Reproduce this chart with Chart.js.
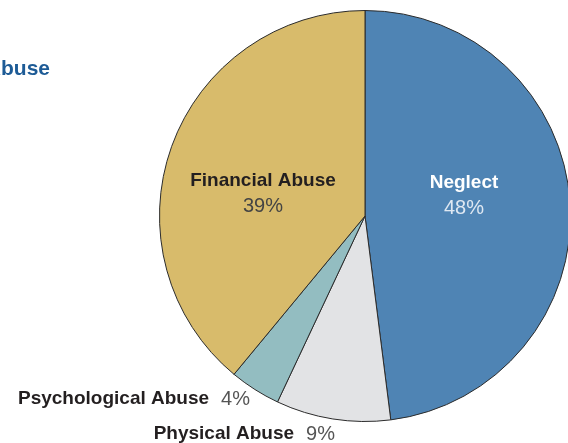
<!DOCTYPE html>
<html>
<head>
<meta charset="utf-8">
<script src="https://cdn.jsdelivr.net/npm/chart.js@4/dist/chart.umd.min.js"></script>
<style>
  html, body { margin: 0; padding: 0; background: #ffffff; overflow: hidden; }
  #wrap { position: absolute; left: 0; top: 0; width: 600px; height: 443px; }
</style>
</head>
<body>
<div id="wrap"><canvas id="c"></canvas></div>
<script>
// Shares of reported cases by type
const categories = ['Neglect', 'Physical Abuse', 'Psychological Abuse', 'Financial Abuse'];
const shares = [48, 9, 4, 39];
const sliceColors = ['#4f84b4', '#e2e3e5', '#93bdc1', '#d8bb6b'];

// Where each label sits, relative to the pie centre (px), and its style
const labelLayout = [
  { dx: 99, dy: -21, align: 'center', stacked: true, nameColor: '#ffffff', pctColor: '#dfe8f2' },
  { dx: -30, dy: 218, align: 'right', stacked: false, nameColor: '#231f20', pctColor: '#555555' },
  { dx: -115, dy: 183, align: 'right', stacked: false, nameColor: '#231f20', pctColor: '#555555' },
  { dx: -102, dy: -23, align: 'center', stacked: true, nameColor: '#231f20', pctColor: '#444444' }
];

const FONT = '"Liberation Sans", Arial, sans-serif';

const labelPlugin = {
  id: 'sliceLabels',
  afterDatasetsDraw(chart) {
    const ctx = chart.ctx;
    const meta = chart.getDatasetMeta(0);
    const arc0 = meta.data[0];
    const cx = arc0.x, cy = arc0.y;
    ctx.save();
    ctx.textBaseline = 'middle';
    categories.forEach((name, i) => {
      const L = labelLayout[i];
      const pct = shares[i] + '%';
      const x = cx + L.dx, y = cy + L.dy;
      const bold = 'bold 19px ' + FONT;
      const reg = '20px ' + FONT;
      if (L.stacked) {
        ctx.textAlign = 'center';
        ctx.font = bold; ctx.fillStyle = L.nameColor;
        ctx.fillText(name, x, y - 12);
        ctx.font = reg; ctx.fillStyle = L.pctColor;
        ctx.fillText(pct, x, y + 13);
      } else {
        ctx.font = reg;
        const pw = ctx.measureText(pct).width;
        ctx.textAlign = 'right';
        ctx.fillStyle = L.pctColor;
        ctx.fillText(pct, x, y);
        ctx.font = bold; ctx.fillStyle = L.nameColor;
        ctx.fillText(name, x - pw - 12, y);
      }
    });
    ctx.restore();
  }
};

const titlePlugin = {
  id: 'cutTitle',
  afterDraw(chart) {
    const ctx = chart.ctx;
    ctx.save();
    ctx.font = 'bold 21px ' + FONT;
    ctx.fillStyle = '#1d5b96';
    ctx.textAlign = 'right';
    ctx.textBaseline = 'middle';
    ctx.fillText('Types of Elder Abuse', 50, 69);
    ctx.restore();
  }
};

new Chart(document.getElementById('c'), {
  type: 'pie',
  data: {
    labels: categories,
    datasets: [{
      data: shares,
      backgroundColor: sliceColors,
      borderColor: '#2b2b2b',
      borderWidth: 1
    }]
  },
  options: {
    responsive: true,
    maintainAspectRatio: false,
    animation: false,
    layout: { padding: { left: 159, right: 29, top: 10, bottom: 21 } },
    plugins: { legend: { display: false }, tooltip: { enabled: false } }
  },
  plugins: [labelPlugin, titlePlugin]
});
</script>
</body>
</html>
